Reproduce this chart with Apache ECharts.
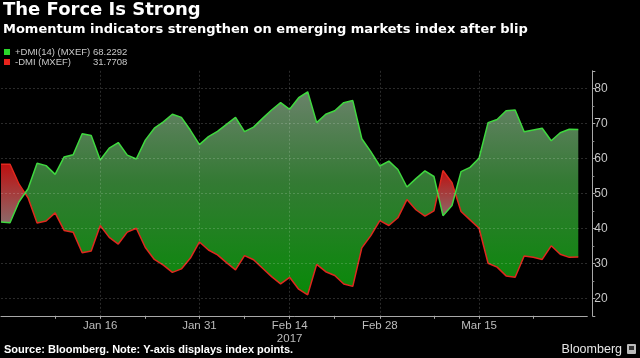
<!DOCTYPE html>
<html>
<head>
<meta charset="utf-8">
<script src="https://cdn.jsdelivr.net/npm/echarts@6/dist/echarts.min.js"></script>
<style>
html,body{margin:0;padding:0;background:#000;}
#chart{width:640px;height:358px;}
</style>
</head>
<body>
<div id="chart"></div>
<script>
// Trading days (weekdays), Dec 30 2016 .. Mar 31 2017
var categories = [
  "2016-12-30",
  "2017-01-02","2017-01-03","2017-01-04","2017-01-05","2017-01-06",
  "2017-01-09","2017-01-10","2017-01-11","2017-01-12","2017-01-13",
  "2017-01-16","2017-01-17","2017-01-18","2017-01-19","2017-01-20",
  "2017-01-23","2017-01-24","2017-01-25","2017-01-26","2017-01-27",
  "2017-01-30","2017-01-31",
  "2017-02-01","2017-02-02","2017-02-03",
  "2017-02-06","2017-02-07","2017-02-08","2017-02-09","2017-02-10",
  "2017-02-13","2017-02-14","2017-02-15","2017-02-16","2017-02-17",
  "2017-02-20","2017-02-21","2017-02-22","2017-02-23","2017-02-24",
  "2017-02-27","2017-02-28",
  "2017-03-01","2017-03-02","2017-03-03",
  "2017-03-06","2017-03-07","2017-03-08","2017-03-09","2017-03-10",
  "2017-03-13","2017-03-14","2017-03-15","2017-03-16","2017-03-17",
  "2017-03-20","2017-03-21","2017-03-22","2017-03-23","2017-03-24",
  "2017-03-27","2017-03-28","2017-03-29","2017-03-30","2017-03-31"
];

var plusDMI = [
  41.8, 41.6, 47.6, 51.3, 58.6, 57.9, 55.4, 60.4, 61.0, 67.0,
  66.5, 59.5, 62.9, 64.5, 60.9, 59.8, 65.2, 68.6, 70.4, 72.6,
  71.7, 68.0, 63.9, 66.2, 67.7, 69.7, 71.7, 67.6, 68.9, 71.4,
  73.8, 75.9, 74.0, 77.3, 79.0, 70.2, 72.6, 73.6, 75.9, 76.5,
  65.6, 61.9, 57.8, 59.2, 56.8, 51.8, 54.2, 56.4, 54.8, 43.6,
  46.5, 56.2, 57.4, 60.0, 70.2, 71.1, 73.6, 73.8, 67.6, 68.1,
  68.6, 65.0, 67.3, 68.3, 68.2292
];

var minusDMI = [
  58.3, 58.3, 52.6, 48.7, 41.5, 42.1, 44.4, 39.4, 38.9, 33.0,
  33.5, 40.8, 37.4, 35.5, 38.9, 40.0, 34.5, 31.1, 29.5, 27.4,
  28.4, 31.5, 36.1, 33.8, 32.4, 30.2, 28.1, 32.2, 31.0, 28.6,
  26.2, 24.1, 26.0, 22.6, 21.0, 29.7, 27.6, 26.5, 24.1, 23.4,
  34.4, 37.9, 42.2, 40.8, 43.0, 48.2, 45.3, 43.5, 45.0, 56.5,
  53.0, 44.8, 42.4, 40.0, 30.0, 28.9, 26.4, 26.0, 32.1, 31.7,
  31.1, 35.0, 32.6, 31.7, 31.7708
];

var seriesNames = ["+DMI(14) (MXEF)", "-DMI (MXEF)"];
var lastValues = ["68.2292", "31.7708"];

var labelDates = {"2017-01-16":"Jan 16","2017-01-31":"Jan 31","2017-02-14":"Feb 14\n2017","2017-02-28":"Feb 28","2017-03-15":"Mar 15"};
var minorTickDates = ["2017-01-09","2017-01-23","2017-02-07","2017-02-21","2017-03-08","2017-03-23"];

var chart = echarts.init(document.getElementById('chart'), null, {renderer:'canvas'});

function bandRender(params, api) {
  if (params.dataIndex !== 0) return null;
  var n = plusDMI.length;
  var P = [], M = [];
  for (var i = 0; i < n; i++) {
    P.push(api.coord([i, plusDMI[i]]));
    M.push(api.coord([i, minusDMI[i]]));
  }
  var regions = [];
  var pos = plusDMI[0] >= minusDMI[0];
  var up = [P[0]], lo = [M[0]];
  for (var j = 1; j < n; j++) {
    var d0 = plusDMI[j-1] - minusDMI[j-1];
    var d1 = plusDMI[j] - minusDMI[j];
    var pos1 = d1 >= 0;
    if (pos1 !== pos) {
      var t = d0 / (d0 - d1);
      var c = [P[j-1][0] + t * (P[j][0] - P[j-1][0]), P[j-1][1] + t * (P[j][1] - P[j-1][1])];
      up.push(c);
      regions.push({pos: pos, pts: up.concat(lo.slice().reverse())});
      up = [c]; lo = [c]; pos = pos1;
    }
    up.push(P[j]); lo.push(M[j]);
  }
  regions.push({pos: pos, pts: up.concat(lo.slice().reverse())});

  var yTop = api.coord([0, 85])[1];
  var yBot = api.coord([0, 15])[1];
  var green = new echarts.graphic.LinearGradient(0, yTop, 0, yBot, [
    {offset: 0, color: 'rgb(118,132,118)'},
    {offset: 0.45, color: 'rgb(52,122,52)'},
    {offset: 1, color: 'rgb(0,140,0)'}
  ], true);
  var children = regions.map(function (r) {
    var fill = r.pos ? green : new echarts.graphic.LinearGradient(0, 0, 0, 1, [
      {offset: 0, color: 'rgb(190,16,16)'},
      {offset: 1, color: 'rgb(140,105,105)'}
    ]);
    return {type: 'polygon', shape: {points: r.pts}, style: {fill: fill, stroke: null}};
  });
  return {type: 'group', children: children};
}

var option = {
  backgroundColor: '#000',
  animation: false,
  title: [
    {text: 'The Force Is Strong', left: 3, top: 1, padding: 0,
     textStyle: {color: '#fff', fontSize: 18, fontWeight: 'bold', fontFamily: 'DejaVu Sans'}},
    {text: 'Momentum indicators strengthen on emerging markets index after blip', left: 3, top: 23, padding: 0,
     textStyle: {color: '#fff', fontSize: 13, fontWeight: 'bold', fontFamily: 'DejaVu Sans'}},
    {text: 'Source: Bloomberg. Note: Y-axis displays index points.', left: 4, top: 344, padding: 0,
     textStyle: {color: '#fff', fontSize: 11, fontWeight: 'bold', fontFamily: 'Liberation Sans'}}
  ],
  legend: {
    data: seriesNames,
    left: 4, top: 47, orient: 'vertical', padding: 0, itemGap: 0,
    icon: 'rect', itemWidth: 6, itemHeight: 6,
    selectedMode: false,
    textStyle: {color: '#c8c8c8', fontSize: 9.5, fontFamily: 'Liberation Sans', lineHeight: 10,
      rich: {n: {width: 78, color: '#c8c8c8', fontSize: 9.5, fontFamily: 'Liberation Sans'},
             v: {color: '#c8c8c8', fontSize: 9.5, fontFamily: 'Liberation Sans'}}},
    formatter: function (name) {
      var k = seriesNames.indexOf(name);
      return '{n|' + name + '}{v|' + lastValues[k] + '}';
    }
  },
  grid: {left: 1, right: 52.7, top: 70.8, bottom: 42.2, containLabel: false},
  xAxis: {
    type: 'category',
    data: categories,
    boundaryGap: false,
    z: 5,
    axisLine: {show: true, lineStyle: {color: '#a8a8a8', width: 1}},
    axisTick: {show: true, length: 3, lineStyle: {color: '#a8a8a8'},
      interval: function (i, v) { return !!labelDates[v] || minorTickDates.indexOf(v) >= 0; }},
    axisLabel: {color: '#bdbdbd', fontSize: 11.5, fontFamily: 'Liberation Sans', margin: 4, lineHeight: 13,
      interval: function (i, v) { return !!labelDates[v]; },
      formatter: function (v) { return labelDates[v] || ''; }},
    splitLine: {show: true, lineStyle: {color: 'rgba(255,255,255,0.17)', type: [2, 2]},
      interval: function (i, v) { return !!labelDates[v]; }}
  },
  yAxis: {
    type: 'value',
    position: 'right',
    offset: 5,
    min: 15, max: 85, splitNumber: 7,
    z: 5,
    axisLine: {show: true, lineStyle: {color: '#a8a8a8', width: 1}},
    axisTick: {show: true, length: 3, lineStyle: {color: '#a8a8a8'}},
    minorTick: {show: true, splitNumber: 2, length: 2, lineStyle: {color: '#888'}},
    axisLabel: {color: '#c8c8c8', fontSize: 12, fontFamily: 'Liberation Sans', margin: 2,
      showMinLabel: false, showMaxLabel: false},
    splitLine: {show: true, showMinLine: false, showMaxLine: false,
      lineStyle: {color: 'rgba(255,255,255,0.17)', type: [2, 2]}}
  },
  series: [
    {type: 'custom', name: 'band', silent: true, z: 1,
     data: plusDMI.map(function (v, i) { return [i, v, minusDMI[i]]; }),
     encode: {x: 0, y: [1, 2]},
     renderItem: bandRender},
    {type: 'line', name: seriesNames[1], data: minusDMI, symbol: 'none', z: 3,
     color: '#e8231c', lineStyle: {color: '#e0281e', width: 1.5}},
    {type: 'line', name: seriesNames[0], data: plusDMI, symbol: 'none', z: 4,
     color: '#2bd82b', lineStyle: {color: '#3fd83f', width: 1.5}}
  ],
  graphic: [
    {type: 'text', right: 18, top: 343, style: {text: 'Bloomberg', fill: '#e6e6e6', fontSize: 12.5, fontFamily: 'Liberation Sans'}},
    {type: 'rect', right: 4, top: 344, shape: {width: 9, height: 10, r: 1}, style: {fill: '#bbbbbb'}},
    {type: 'rect', right: 6, top: 346, shape: {width: 5, height: 4}, style: {fill: '#333'}}
  ]
};
chart.setOption(option);
</script>
</body>
</html>
